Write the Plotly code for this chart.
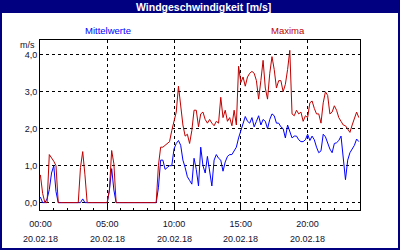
import plotly.graph_objects as go

# ---- data (10-minute values, 20.02.18) ----
n_points = 144
maxima = [
    0.75, 0.25, 0, 0, 1.3, 1.22, 1.12, 1.0, 0,
    0, 0, 0, 0, 0, 0, 0, 0, 0,
    0.95, 1.38, 0.75,
    0, 0, 0, 0, 0, 0, 0, 0, 0, 0,
    0.35, 1.41, 1.05,
    0, 0, 0, 0, 0, 0, 0, 0, 0, 0, 0, 0, 0, 0, 0, 0, 0, 0, 0,
    1.0, 1.5, 1.5, 1.55, 1.6, 1.65, 1.95, 2.2, 2.45, 3.15,
    2.6, 2.1, 1.8, 1.85, 1.6, 1.95, 2.5, 2.5, 2.05, 2.4,
    2.45, 2.25, 2.15, 2.25, 2.15, 2.08, 2.2, 2.15, 2.85, 2.3,
    2.5, 2.2, 2.3, 2.08, 2.5, 2.1, 3.69, 3.25, 3.4, 3.15,
    3.4, 3.5, 3.55, 3.5, 3.3, 2.8, 3.3, 3.85, 3.1, 2.8,
    3.5, 3.95, 3.6, 3.1, 3.3, 3.3, 3.0, 3.2, 3.6, 4.12,
    2.4, 2.35, 2.5, 2.4, 2.45, 2.2, 2.35, 2.3, 2.7, 2.75,
    2.55, 2.4, 2.4, 2.15, 2.7, 3.0, 2.9, 2.4, 2.45, 2.62,
    2.5, 2.3, 2.2, 2.1, 2.08, 2.0, 1.9, 2.1, 2.3, 2.45, 2.3,
]
mittelwerte = [
    0.15, 0, 0, 0.1, 0.35, 0.8, 1.0, 0.3, 0,
    0, 0, 0, 0, 0, 0, 0, 0, 0, 0,
    0.1,
    0, 0, 0, 0, 0, 0, 0, 0, 0, 0, 0,
    0.34, 0.92, 0.34,
    0, 0, 0, 0, 0, 0, 0, 0, 0, 0, 0, 0, 0, 0, 0, 0, 0, 0, 0,
    0.4, 1.15, 1.15, 0.9, 0.95, 1.0, 1.0, 1.45, 1.6, 1.68,
    1.55, 1.15, 0.95, 0.7, 0.6, 0.5, 1.2, 0.9, 0.45, 1.5,
    1.0, 0.8, 1.25, 0.9, 0.45, 1.15, 1.3, 1.2, 1.15, 0.85,
    1.1, 1.25, 1.3, 1.3, 1.4, 1.5, 1.75, 1.95, 2.17, 2.33,
    2.2, 2.15, 2.3, 2.05, 2.2, 2.35, 2.1, 2.25, 2.2, 2.0,
    2.25, 2.4, 2.35, 2.15, 2.15, 2.05, 2.0, 1.75, 2.1, 1.95,
    1.75, 1.8, 1.8, 1.7, 1.65, 1.65, 1.7, 1.85, 1.68, 1.8,
    1.7, 1.5, 1.35, 1.4, 1.85, 1.78, 1.62, 1.45, 1.35, 1.6,
    1.62, 1.68, 1.8, 1.1, 0.62, 1.15, 1.35, 1.45, 1.55, 1.72, 1.65,
]
hours = [i / 6 for i in range(n_points)]

x_tick_hours = [0, 5, 10, 15, 20]
x_tick_times = ["00:00", "05:00", "10:00", "15:00", "20:00"]
x_tick_dates = ["20.02.18", "20.02.18", "20.02.18", "20.02.18", "20.02.18"]
y_ticks = [0, 1, 2, 3, 4]
y_labels = ["0,0", "1,0", "2,0", "3,0", "4,0"]

title = "Windgeschwindigkeit [m/s]"
unit = "m/s"
name_mean = "Mittelwerte"
name_max = "Maxima"

RED = "#c00000"
BLUE = "#0000ff"
NAVY = "#000080"
FONT = "Liberation Sans, Arial, sans-serif"
TXT = "#101030"

fig = go.Figure()
fig.add_trace(go.Scatter(x=hours, y=mittelwerte, mode="lines",
                         line=dict(color=BLUE, width=1), name=name_mean))
fig.add_trace(go.Scatter(x=hours, y=maxima, mode="lines",
                         line=dict(color=RED, width=1), name=name_max))

W, H = 400, 250
L, R, T, B = 40, 40, 40, 40
pw, ph = W - L - R, H - T - B


def px(xp):
    return (xp - L) / pw


def py(yp):
    return (H - B - yp) / ph


shapes = [
    dict(type="rect", xref="paper", yref="paper", x0=px(0), x1=px(W),
         y0=py(13), y1=py(0), fillcolor=NAVY, line=dict(width=0)),
    dict(type="rect", xref="paper", yref="paper", x0=px(0), x1=px(2),
         y0=py(H), y1=py(0), fillcolor=NAVY, line=dict(width=0)),
    dict(type="rect", xref="paper", yref="paper", x0=px(W - 2), x1=px(W),
         y0=py(H), y1=py(0), fillcolor=NAVY, line=dict(width=0)),
    dict(type="rect", xref="paper", yref="paper", x0=px(0), x1=px(W),
         y0=py(H), y1=py(H - 2), fillcolor=NAVY, line=dict(width=0)),
]

annotations = [
    dict(text="<b>%s</b>" % title, xref="paper", yref="paper", x=px(203), y=py(7),
         showarrow=False, font=dict(family=FONT, size=10.5, color="white"),
         xanchor="center", yanchor="middle"),
    dict(text=unit, xref="paper", yref="paper", x=px(37), y=py(45),
         showarrow=False, font=dict(family=FONT, size=9, color=TXT),
         xanchor="right", yanchor="middle"),
    dict(text=name_mean, xref="paper", yref="paper", x=px(108), y=py(31),
         showarrow=False, font=dict(family=FONT, size=9.5, color=BLUE),
         xanchor="center", yanchor="middle"),
    dict(text=name_max, xref="paper", yref="paper", x=px(288), y=py(31),
         showarrow=False, font=dict(family=FONT, size=9.5, color=RED),
         xanchor="center", yanchor="middle"),
]
for h, d in zip(x_tick_hours, x_tick_dates):
    annotations.append(dict(text=d, xref="x", yref="paper", x=h, y=py(238.5),
                            showarrow=False, font=dict(family=FONT, size=9, color=TXT),
                            xanchor="center", yanchor="middle"))

fig.update_layout(
    width=W, height=H,
    margin=dict(l=L, r=R, t=T, b=B, pad=0),
    paper_bgcolor="white", plot_bgcolor="white",
    showlegend=False,
    shapes=shapes, annotations=annotations,
    font=dict(family=FONT, size=9, color=TXT),
)
fig.update_xaxes(
    range=[-0.03, 23.92],
    tickmode="array", tickvals=x_tick_hours, ticktext=x_tick_times,
    ticks="inside", ticklen=5, tickcolor="black", tickwidth=1,
    ticklabelstandoff=5,
    minor=dict(tickmode="linear", tick0=0, dtick=1, ticks="inside", ticklen=2,
               tickcolor="black", showgrid=False),
    showgrid=True, gridcolor="black", gridwidth=1, griddash="3px,3px",
    showline=True, linecolor="black", linewidth=1, mirror=True,
    zeroline=False, tickfont=dict(family=FONT, size=9, color=TXT),
)
fig.update_yaxes(
    range=[-0.2, 4.4],
    tickmode="array", tickvals=y_ticks, ticktext=y_labels,
    ticks="",
    showgrid=True, gridcolor="black", gridwidth=1, griddash="3px,3px",
    showline=True, linecolor="black", linewidth=1, mirror=True,
    zeroline=False, tickfont=dict(family=FONT, size=9, color=TXT),
)

fig.write_html("out.html")
